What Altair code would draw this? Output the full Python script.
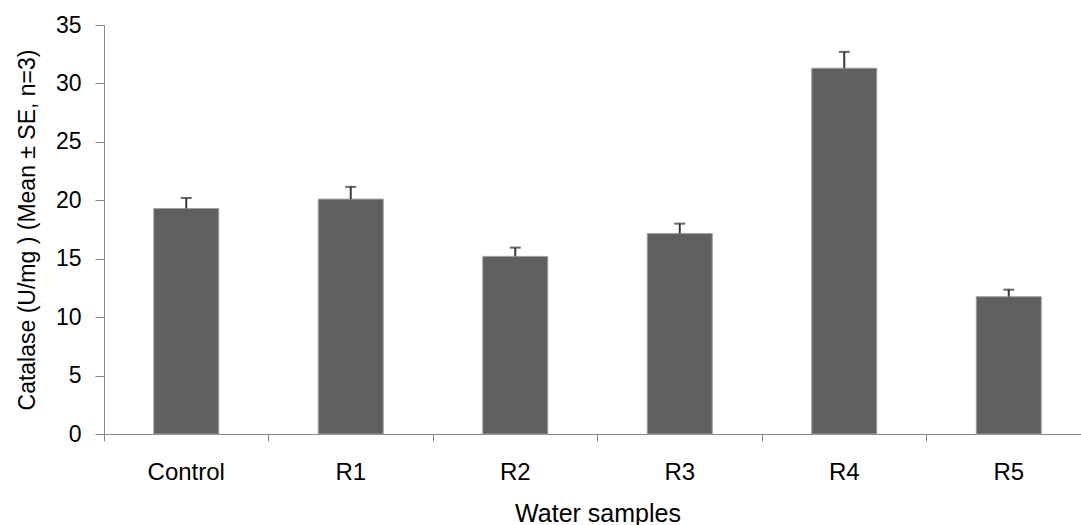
import altair as alt
import pandas as pd

categories = ["Control", "R1", "R2", "R3", "R4", "R5"]
means = [19.3, 20.1, 15.2, 17.15, 31.3, 11.75]
se = [0.9, 1.05, 0.75, 0.85, 1.4, 0.6]

df = pd.DataFrame({"sample": categories, "mean": means, "se": se})
df["upper"] = df["mean"] + df["se"]

FONT = "Liberation Sans"
AX = "#868686"

x_enc = alt.X(
    "sample:N",
    sort=categories,
    scale=alt.Scale(range=[0, 987], paddingInner=0, paddingOuter=0),
    axis=alt.Axis(
        title="Water samples",
        bandPosition=0,
        labelAngle=0,
        tickSize=7,
        labelPadding=38,
        labelBaseline="alphabetic",
        labelFontSize=24,
        labelFont=FONT,
        labelColor="#000000",
        titleFontSize=25,
        titleFont=FONT,
        titleFontWeight="normal",
        titleColor="#000000",
        titleY=87,
        titleBaseline="alphabetic",
        domainColor=AX,
        tickColor=AX,
        grid=False,
    ),
)

y_scale = alt.Scale(domain=[0, 35], nice=False)
y_axis = alt.Axis(
    title="Catalase (U/mg ) (Mean ± SE, n=3)",
    values=[0, 5, 10, 15, 20, 25, 30, 35],
    tickSize=9,
    labelPadding=14,
    labelFontSize=23,
    labelFont=FONT,
    labelColor="#000000",
    titleFontSize=23,
    titleFont=FONT,
    titleFontWeight="normal",
    titleColor="#000000",
    titleX=-77,
    titleY=204.5,
    titleAngle=270,
    titleAlign="center",
    titleBaseline="middle",
    domainColor=AX,
    tickColor=AX,
    grid=False,
)

bars = alt.Chart(df).mark_bar(width=65, color="#5f5f5f", stroke="#a0a0a0", strokeWidth=1).encode(
    x=x_enc,
    y=alt.Y("mean:Q", scale=y_scale, axis=y_axis),
)

err = alt.Chart(df).mark_rule(color="#3a3a3a", strokeWidth=2).encode(
    x=alt.X("sample:N", sort=categories),
    y=alt.Y("mean:Q"),
    y2="upper:Q",
)

caps = alt.Chart(df).mark_tick(color="#2a2a2a", size=11, thickness=2).encode(
    x=alt.X("sample:N", sort=categories),
    y=alt.Y("upper:Q"),
)

chart = (
    alt.layer(bars, err, caps)
    .properties(
        width=977,
        height=409,
        padding={"left": 104, "top": 25, "right": 0, "bottom": 91},
        autosize="none",
        background="white",
    )
    .configure_view(stroke=None)
)

chart.save("out.html", embed_options={"renderer": "svg", "actions": False})
